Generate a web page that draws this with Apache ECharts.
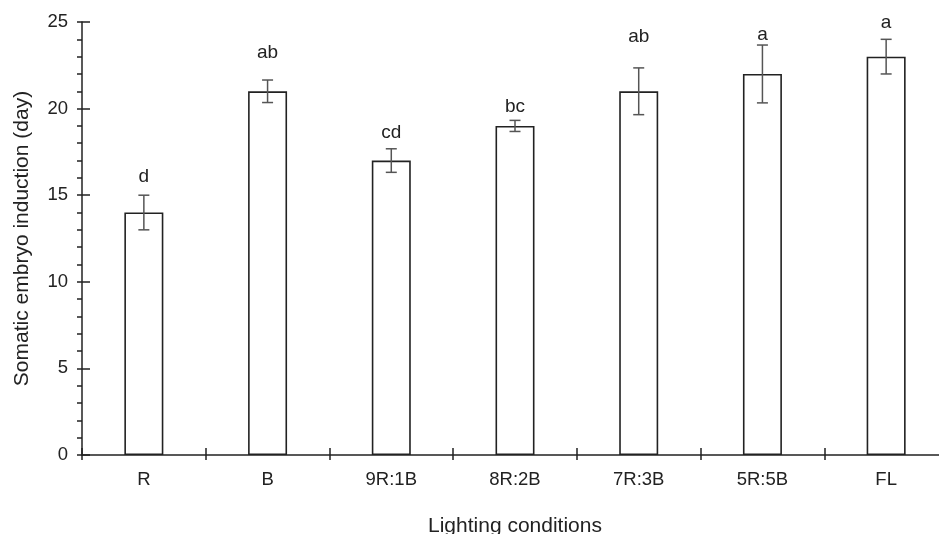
<!DOCTYPE html>
<html><head><meta charset="utf-8">
<script src="https://cdn.jsdelivr.net/npm/echarts@6/dist/echarts.min.js"></script>
<style>html,body{margin:0;padding:0;background:#fff}#c{width:939px;height:534px}</style>
</head><body><div id="c"></div>
<script>
const categories = ['R', 'B', '9R:1B', '8R:2B', '7R:3B', '5R:5B', 'FL'];
const means = [14, 21, 17, 19, 21, 22, 23];
const errors = [1.0, 0.65, 0.68, 0.32, 1.35, 1.67, 1.0];
const letters = ['d', 'ab', 'cd', 'bc', 'ab', 'a', 'a'];
const letterHeights = [16.05, 23.2, 18.6, 20.1, 24.15, 24.25, 24.96];
const yTicks = [0, 5, 10, 15, 20, 25];

const font = 'Liberation Sans, Arial, sans-serif';
const ink = '#222';
const chart = echarts.init(document.getElementById('c'));
chart.setOption({
  animation: false,
  grid: { left: 82, right: -9, top: 22, bottom: 79, outerBoundsMode: 'none', containLabel: false },
  xAxis: [{
    type: 'category', data: categories, position: 'bottom',
    axisLine: { lineStyle: { color: ink, width: 1.5 } },
    axisTick: { show: true, length: 5, lineStyle: { color: ink, width: 1.5 } },
    axisLabel: { color: ink, fontFamily: font, fontSize: 18.5, margin: 15 },
    name: 'Lighting conditions', nameLocation: 'middle', nameGap: 61,
    nameTextStyle: { color: ink, fontFamily: font, fontSize: 21 }
  }, {
    type: 'category', data: categories, position: 'bottom',
    axisLine: { show: false },
    axisTick: { show: true, inside: true, length: 7, lineStyle: { color: ink, width: 1.5 } },
    axisLabel: { show: false }
  }],
  yAxis: [{
    type: 'value', min: yTicks[0], max: yTicks[yTicks.length - 1], interval: 5, position: 'left',
    axisLine: { show: true, lineStyle: { color: ink, width: 1.5 } },
    axisTick: { show: true, length: 5, lineStyle: { color: ink, width: 1.5 } },
    minorTick: { show: true, splitNumber: 5, length: 5, lineStyle: { color: ink, width: 1.5 } },
    splitLine: { show: false },
    axisLabel: { color: ink, fontFamily: font, fontSize: 18.5, margin: 14 },
    name: 'Somatic embryo induction (day)', nameLocation: 'middle', nameGap: 49,
    nameTextStyle: { color: ink, fontFamily: font, fontSize: 21 }
  }, {
    type: 'value', min: yTicks[0], max: yTicks[yTicks.length - 1], interval: 5, position: 'left',
    axisLine: { show: false },
    axisTick: { show: true, inside: true, length: 8, lineStyle: { color: ink, width: 1.5 } },
    splitLine: { show: false },
    axisLabel: { show: false }
  }],
  series: [{
    type: 'bar', data: means, barWidth: 39,
    itemStyle: { color: '#fff', borderColor: ink, borderWidth: 1.6 }
  }, {
    type: 'custom',
    data: means.map((m, i) => [i, m - errors[i], m + errors[i]]),
    renderItem: function (params, api) {
      const lo = api.coord([api.value(0), api.value(1)]);
      const hi = api.coord([api.value(0), api.value(2)]);
      const w = 5.5;
      const st = { stroke: '#555', lineWidth: 1.5 };
      return { type: 'group', children: [
        { type: 'line', shape: { x1: lo[0], y1: lo[1], x2: hi[0], y2: hi[1] }, style: st },
        { type: 'line', shape: { x1: lo[0] - w, y1: lo[1], x2: lo[0] + w, y2: lo[1] }, style: st },
        { type: 'line', shape: { x1: hi[0] - w, y1: hi[1], x2: hi[0] + w, y2: hi[1] }, style: st }
      ]};
    },
    z: 5
  }, {
    type: 'custom',
    data: letterHeights.map((h, i) => [i, h]),
    renderItem: function (params, api) {
      const p = api.coord([api.value(0), api.value(1)]);
      return { type: 'text', x: p[0], y: p[1], style: {
        text: letters[params.dataIndex], fill: ink, font: '19px ' + font,
        align: 'center', verticalAlign: 'middle' } };
    },
    z: 6
  }]
});
</script></body></html>
